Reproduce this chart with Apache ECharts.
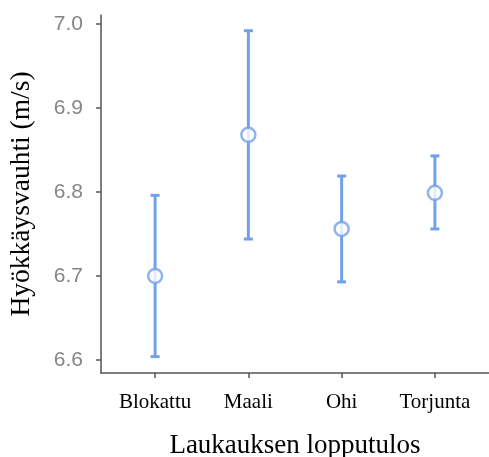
<!DOCTYPE html>
<html>
<head>
<meta charset="utf-8">
<script src="https://cdn.jsdelivr.net/npm/echarts@6/dist/echarts.min.js"></script>
<style>html,body{margin:0;padding:0;background:#fff}#c{width:489px;height:457px}</style>
</head>
<body>
<div id="c"></div>
<script>
const categories = ['Blokattu', 'Maali', 'Ohi', 'Torjunta'];
const means = [6.700, 6.868, 6.756, 6.799];
const lower = [6.604, 6.744, 6.693, 6.756];
const upper = [6.796, 6.992, 6.819, 6.843];
const yTicks = [6.6, 6.7, 6.8, 6.9, 7.0];

const chart = echarts.init(document.getElementById('c'), null, {renderer: 'canvas'});
const xPos = categories.map((c, i) => i + 1);
const blue = '#72a1ea';
const axisCol = '#555555';
const serif = '"Liberation Serif", "Times New Roman", serif';

chart.setOption({
  animation: false,
  grid: {left: 101, right: 0, top: 15, bottom: 84, containLabel: false, outerBoundsMode: 'none'},
  xAxis: {
    type: 'value', min: 0.42, max: 4.58,
    splitLine: {show: false},
    axisLine: {show: true, lineStyle: {color: axisCol, width: 1.5}},
    axisTick: {show: true, customValues: xPos, length: 5, lineStyle: {color: axisCol, width: 1.5}},
    axisLabel: {customValues: xPos, formatter: v => categories[Math.round(v) - 1] || '',
      color: '#000', fontFamily: serif, fontSize: 21, margin: 19},
    name: 'Laukauksen lopputulos', nameLocation: 'middle', nameGap: 59,
    nameTextStyle: {color: '#000', fontFamily: serif, fontSize: 27}
  },
  yAxis: {
    type: 'value', min: 6.5845, max: 7.0107,
    splitLine: {show: false},
    axisLine: {show: true, lineStyle: {color: axisCol, width: 1.5}},
    axisTick: {show: true, customValues: yTicks, length: 5, lineStyle: {color: axisCol, width: 1.5}},
    axisLabel: {customValues: yTicks, formatter: v => v.toFixed(1),
      color: '#858585', fontFamily: '"Liberation Sans", Arial, sans-serif', fontSize: 21, margin: 18},
    name: 'Hyökkäysvauhti (m/s)', nameLocation: 'middle', nameGap: 65,
    nameTextStyle: {color: '#000', fontFamily: serif, fontSize: 27.5}
  },
  series: [
    {
      type: 'custom',
      data: xPos.map((x, i) => [x, lower[i], upper[i]]),
      renderItem: function (params, api) {
        const x = api.value(0);
        const lo = api.coord([x, api.value(1)]);
        const hi = api.coord([x, api.value(2)]);
        const hw = 4.5;
        const st = {stroke: blue, lineWidth: 3};
        return {
          type: 'group',
          children: [
            {type: 'line', shape: {x1: lo[0], y1: lo[1], x2: hi[0], y2: hi[1]}, style: st},
            {type: 'line', shape: {x1: lo[0] - hw, y1: lo[1], x2: lo[0] + hw, y2: lo[1]}, style: st},
            {type: 'line', shape: {x1: hi[0] - hw, y1: hi[1], x2: hi[0] + hw, y2: hi[1]}, style: st}
          ]
        };
      },
      z: 2
    },
    {
      type: 'scatter',
      data: xPos.map((x, i) => [x, means[i]]),
      symbol: 'circle', symbolSize: 14,
      itemStyle: {color: '#fff', borderColor: blue, borderWidth: 2.5},
      z: 3
    }
  ]
});
</script>
</body>
</html>
